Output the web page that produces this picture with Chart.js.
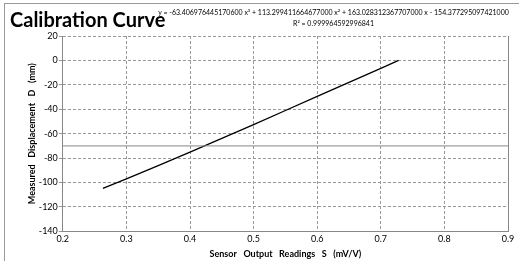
<!DOCTYPE html>
<html>
<head>
  <script src="https://cdn.jsdelivr.net/npm/chart.js"></script>
  <style>
    body { margin: 0; background: #fff; font-family: Lato, "Open Sans", sans-serif; }
    #wrap { position: relative; width: 519px; height: 261px; overflow: hidden; }
    #frame { position: absolute; left: 4px; top: 3px; width: 600px; height: 400px; border-left: 1px solid #999; border-top: 1px solid #999; }
    #title { position: absolute; left: 10px; top: 7px; font-size: 20px; font-weight: bold; color: #000; white-space: nowrap; }
    #eq { position: absolute; left: 148px; top: 7px; width: 371px; font-size: 7px; color: #000; text-align: center; white-space: nowrap; line-height: 11px; }
    canvas { position: absolute; left: 0; top: 0; }
  </style>
</head>
<body>
  <div id="wrap">
    <div id="frame"></div>
    <canvas id="chart" width="519" height="261"></canvas>
    <div id="title">Calibration Curve</div>
    <div id="eq">y = -63.406976445170600 x³ + 113.299411664677000 x² + 163.028312367707000 x - 154.377295097421000<br>R² = 0.999964592996841</div>
  </div>

  <script>
    // readings taken off the plotted calibration line
    const sensorReadings = [0.263, 0.30, 0.35, 0.40, 0.45, 0.50, 0.55, 0.60, 0.65, 0.70, 0.728];
    const displacement = [-104.8, -97.0, -86.2, -75.1, -63.9, -52.5, -41.0, -29.5, -18.0, -6.5, 0.0];
    const referenceLevel = -70;
    const xRange = [0.2, 0.9];
    const yRange = [-140, 20];

    const curvePoints = sensorReadings.map((s, i) => ({ x: s, y: displacement[i] }));
    const refPoints = xRange.map(s => ({ x: s, y: referenceLevel }));

    // solid right edge of the plot area
    const plotEdge = {
      id: 'plotEdge',
      afterDraw(chart) {
        const a = chart.chartArea, c = chart.ctx;
        c.save();
        c.strokeStyle = '#888';
        c.lineWidth = 1;
        c.beginPath();
        c.moveTo(Math.round(a.right) + 0.5, a.top);
        c.lineTo(Math.round(a.right) + 0.5, a.bottom);
        c.stroke();
        c.restore();
      }
    };

    const tickFont = { family: 'Lato, "Open Sans", sans-serif', size: 9 };
    const titleFont = { family: 'Lato, "Open Sans", sans-serif', size: 9, weight: 'bold' };

    new Chart(document.getElementById('chart'), {
      type: 'scatter',
      data: {
        datasets: [
          {
            data: refPoints,
            showLine: true,
            borderColor: '#888',
            borderWidth: 1,
            pointRadius: 0
          },
          {
            data: curvePoints,
            showLine: true,
            borderColor: '#000',
            borderWidth: 1.3,
            pointRadius: 0,
            tension: 0
          }
        ]
      },
      options: {
        responsive: false,
        animation: false,
        layout: { padding: { left: 27, right: 11, top: 36, bottom: 2 } },
        plugins: { legend: { display: false }, tooltip: { enabled: false } },
        scales: {
          x: {
            min: xRange[0], max: xRange[1],
            ticks: { stepSize: 0.1, color: '#000', font: tickFont, padding: 2,
              callback: v => (Math.round(v * 10) / 10).toFixed(1) },
            grid: { color: '#999', tickLength: 4, drawTicks: false },
            border: { color: '#888', dash: [3, 2] },
            title: { display: true, text: 'Sensor   Output   Readings   S   (mV/V)', color: '#000', font: titleFont, padding: { top: 2, bottom: 0 } }
          },
          y: {
            min: yRange[0], max: yRange[1],
            ticks: { stepSize: 20, color: '#000', font: tickFont, padding: 1 },
            grid: { color: '#999', tickLength: 4 },
            border: { color: '#888', dash: [3, 2] },
            title: { display: true, text: 'Measured   Displacement   D   (mm)', color: '#000', font: titleFont, padding: { top: 0, bottom: 0 } }
          }
        }
      },
      plugins: [plotEdge]
    });
  </script>
</body>
</html>
